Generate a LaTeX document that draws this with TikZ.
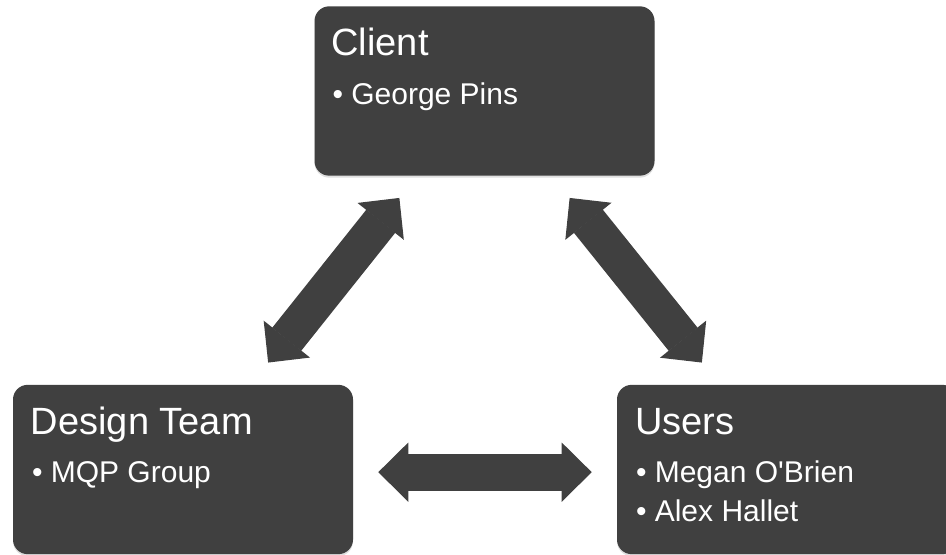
\documentclass[tikz,border=0pt]{standalone}
\usepackage{fontspec}
\setmainfont{Liberation Sans}
\usetikzlibrary{arrows.meta,calc,shadows}
\definecolor{c1}{RGB}{64,64,64}
\tikzset{card/.style={fill=c1,rounded corners=11pt,minimum width=255pt,minimum height=127pt,inner sep=0pt,
    drop shadow={shadow xshift=0pt,shadow yshift=-1.5pt,opacity=.25}},
  head/.style={text=white,anchor=base west,inner sep=0pt,font=\fontsize{28.5pt}{34pt}\selectfont},
  item/.style={head,font=\fontsize{22.5pt}{27pt}\selectfont},
  dbl/.style={draw=c1,line width=27.75pt,{Triangle[length=22.5pt,width=44.25pt,line width=1pt]}-{Triangle[length=22.5pt,width=44.25pt,line width=1pt]}}}

\begin{document}
\begin{tikzpicture}[x=0.75pt,y=-0.75pt]
\useasboundingbox (0,0) rectangle (946,555);
\node[card] (client) at (484.5,91) {};
\node[card] (design) at (183,469.5) {};
\node[card] (users) at (787,469.5) {};
\node[head] (clientt) at ($(client.north west)+(17,49)$) {Client};
\node[item] (clienti) at ($(client.north west)+(18,98)$) {\textbullet\ George Pins};
\node[head] (designt) at ($(design.north west)+(18,50)$) {Design Team};
\node[item] (designi) at ($(design.north west)+(19,98)$) {\textbullet\ MQP Group};
\node[head] (userst) at ($(users.north west)+(18,50)$) {Users};
\node[item] (usersa) at ($(users.north west)+(19,98)$) {\textbullet\ Megan O\textquotesingle Brien};
\node[item] (usersb) at ($(users.north west)+(19,136.5)$) {\textbullet\ Alex Hallet};
\draw[dbl] ($(client.south west)!.25!(client.south east)+(0,22)$) -- ($(design.north west)!.75!(design.north east)+(0,-22)$);
\draw[dbl] ($(client.south west)!.75!(client.south east)+(0,22)$) -- ($(users.north west)!.25!(users.north east)+(0,-22)$);
\draw[dbl,shorten <=18.75pt,shorten >=18.75pt] ([yshift=-2pt]design.east) -- ([yshift=-2pt]users.west);
\end{tikzpicture}
\end{document}
